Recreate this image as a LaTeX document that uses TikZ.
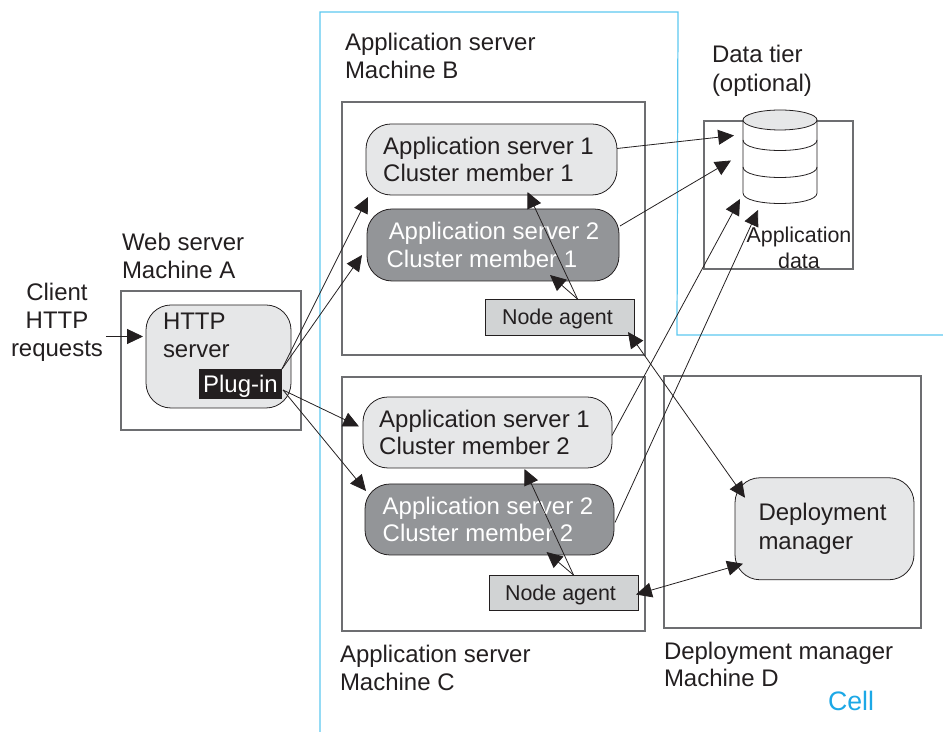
\documentclass[tikz,border=0pt]{standalone}
\usepackage{fontspec}
\setmainfont{Liberation Sans}
\usetikzlibrary{arrows.meta}
\definecolor{inkgray}{HTML}{231F20}
\definecolor{linegray}{HTML}{6D6E71}
\definecolor{lightfill}{HTML}{E6E7E8}
\definecolor{darkfill}{HTML}{939598}
\definecolor{agentfill}{HTML}{D1D3D4}
\definecolor{cellblue}{HTML}{5CC8F0}
\definecolor{celltext}{HTML}{1CA8E6}
\begin{document}
\begin{tikzpicture}[
                x=0.02cm,
                y=-0.02cm,
                every node/.style={
                  font=\fontsize{13.65}{15.8}\selectfont,
                  text=inkgray,
                  outer sep=0pt,
                  inner sep=0pt,
                },
                boxsize/.style 2 args={
                  minimum width=#1*0.02cm,
                  minimum height=#2*0.02cm,
                },
                machine/.style={draw=linegray, line width=.6pt},
                server/.style={draw=inkgray, line width=.45pt, fill=lightfill, rounded corners=.5cm, align=left},
                darkserver/.style={server, fill=darkfill, text=white},
                agent/.style={draw=inkgray, line width=.45pt, fill=agentfill, text depth=0pt, font=\fontsize{12.2}{14}\selectfont},
                label/.style={align=left, anchor=west},
                link/.style={draw=inkgray, line width=.45pt, -{Triangle[length=9pt,width=8.5pt]}},
                both/.style={link, {Triangle[length=9pt,width=8.5pt]}-{Triangle[length=9pt,width=8.5pt]}},
                dbline/.style={draw=inkgray, line width=.45pt},
              ]
              \useasboundingbox (0,0) rectangle (943,732) ;
              \draw[cellblue, line width=.7pt] (320,732) -- (320,12) -- (678,12) -- (677,335) -- (943,335) ;
              \node[machine, boxsize={180}{139}] at (211,360.5) (machinea) {} ;
              \node[machine, boxsize={303}{253}] at (493.5,228.5) (machineb) {} ;
              \node[machine, boxsize={303}{254}] at (493.5,504) (machinec) {} ;
              \node[machine, boxsize={257}{252}] at (792.5,502) (machined) {} ;
              \node[machine, boxsize={149}{148}] at (778.5,195) (tier) {} ;
              \node[server, boxsize={145}{103}] at (218.5,356.5) (http) {} ;
              \node[label] at (163,335.5) (httptext) {HTTP\\server} ;
              \node[fill=inkgray, text=white, text depth=0pt, boxsize={83}{30}] at (240.5,384) (plugin) {Plug-in} ;
              \node[server, boxsize={251}{71}] at (491.5,159.5) (asb1) {Application server 1\hspace*{3.4pt}\\Cluster member 1} ;
              \node[darkserver, boxsize={252}{72}] at (493,245) (asb2) {\hspace*{1.2pt}Application server 2\\Cluster member 1} ;
              \node[agent, boxsize={149}{36}] at (559.5,317) (agentb) {Node agent\hspace*{2.3pt}} ;
              \node[server, boxsize={249}{71}] at (487.5,432.5) (asc1) {Application server 1\hspace*{3.4pt}\\Cluster member 2} ;
              \node[darkserver, boxsize={249}{71}] at (489.5,519.5) (asc2) {Application server 2\hspace*{1.7pt}\\Cluster member 2} ;
              \node[agent, boxsize={149}{35}] at (563.5,592.5) (agentc) {Node agent\hspace*{3.4pt}} ;
              \node[server, boxsize={179}{102}, yshift=-1pt] at (824.5,527) (dm) {Deployment\hspace*{2.3pt}\\[.6pt]manager} ;
              \node[boxsize={74}{93}] at (780,156.5) (db) {} ;
              \draw[dbline, fill=white] (743,120) -- (743,193) .. controls (743,207) and (817,207) .. (817,193) -- (817,120) -- cycle ;
              \draw[dbline] (743,140) .. controls (743,154) and (817,154) .. (817,140) ;
              \draw[dbline] (743,167) .. controls (743,181) and (817,181) .. (817,167) ;
              \draw[dbline, fill=lightfill] (780,120) ellipse [x radius=37, y radius=10] ;
              \node[align=center, font=\fontsize{12.2}{14.7}\selectfont] at (799,248) (dbtext) {Application\\data} ;
              \node[align=center] at (57,322.5) (client) {Client\\HTTP\\requests} ;
              \node[label] at (122,256) (labela) {Web server\\Machine A} ;
              \node[label] at (345,56) (labelb) {Application server\\Machine B} ;
              \node[label] at (340,668) (labelc) {Application server\\Machine C} ;
              \node[label] at (664,664.5) (labeld) {Deployment manager\\Machine D} ;
              \node[label] at (712,70.5) (labeltier) {Data tier\\[.6pt](optional)} ;
              \node[label, text=celltext, font=\fontsize{15.2}{18}\selectfont] at (828,701) (cell) {Cell} ;
              \draw[link] (client.east |- http.west) ++(3,-20) -- ([shift={(-3,-20)}]http.west) ;
              \draw[link] (plugin.north east) -- ([shift={(2,2)}]asb1.south west) ;
              \draw[link] (plugin.north east) -- ([shift={(-5,10)}]asb2.west) ;
              \draw[link] ([shift={(1,6)}]plugin.east) -- ([shift={(-4,-6)}]asc1.west) ;
              \draw[link] ([shift={(1,6)}]plugin.east) -- ([shift={(1,7)}]asc2.north west) ;
              \draw[link] ([shift={(0,-11)}]asb1.east) -- ([shift={(-9,-21)}]db.west) ;
              \draw[link] ([shift={(1,-19)}]asb2.east) -- ([shift={(-12,4)}]db.west) ;
              \draw[link] ([shift={(0,3)}]asc1.east) -- ([shift={(-3,-4)}]db.south west) ;
              \draw[link] ([shift={(1,3)}]asc2.east) -- ([shift={(15,7)}]db.south west) ;
              \draw[link] ([shift={(18,0)}]agentb.north) -- ([shift={(36,-3)}]asb1.south) ;
              \draw[link] ([shift={(18,0)}]agentb.north) -- ([shift={(57,-6)}]asb2.south) ;
              \draw[link] ([shift={(10,0)}]agentc.north) -- ([shift={(37,1)}]asc1.south) ;
              \draw[link] ([shift={(10,0)}]agentc.north) -- ([shift={(57,-3)}]asc2.south) ;
              \draw[both] ([shift={(-6,-3)}]agentb.south east) -- ([shift={(10,20)}]dm.north west) ;
              \draw[both] ([shift={(-2,2)}]agentc.east) -- ([shift={(8,35)}]dm.west) ;
              \end{tikzpicture}
\end{document}
